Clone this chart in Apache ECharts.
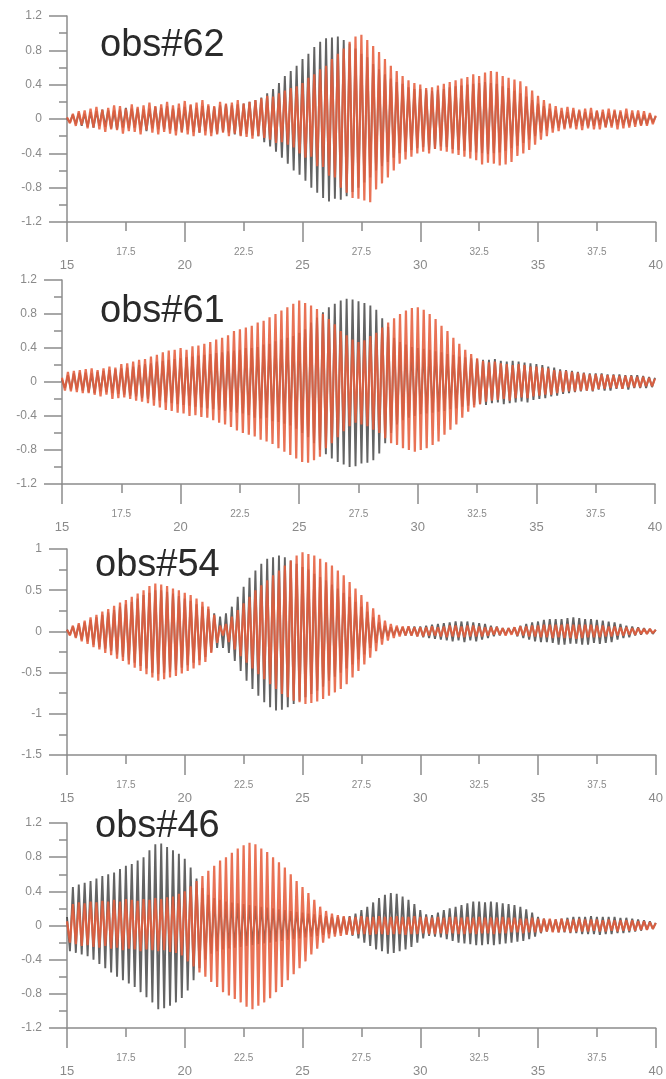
<!DOCTYPE html>
<html>
<head>
<meta charset="utf-8">
<script src="https://cdn.jsdelivr.net/npm/echarts@6/dist/echarts.min.js"></script>
<style>
html,body{margin:0;padding:0;background:#fff;}
#c{width:666px;height:1079px;}
</style>
</head>
<body>
<div id="c"></div>
<script>
// sampling of every trace: first time and step (time axis, s)
const T0 = 15;
const STEP = 0.125;
const xTicksMajor = [15, 20, 25, 30, 35, 40];
const xTicksMinor = [17.5, 22.5, 27.5, 32.5, 37.5];
const panelNames = ['obs#62', 'obs#61', 'obs#54', 'obs#46'];

// obs#62
const black62 = [
0.01,-0.04,0.05,-0.06,0.07,-0.08,0.06,-0.09,
0.08,-0.1,0.09,-0.08,0.11,-0.09,0.1,-0.11,
0.1,-0.12,0.11,-0.1,0.13,-0.11,0.12,-0.1,
0.12,-0.13,0.11,-0.14,0.12,-0.11,0.14,-0.12,
0.13,-0.12,0.15,-0.13,0.12,-0.14,0.13,-0.15,
0.14,-0.13,0.16,-0.15,0.13,-0.16,0.15,-0.14,
0.15,-0.16,0.14,-0.17,0.16,-0.15,0.17,-0.16,
0.16,-0.18,0.17,-0.19,0.18,-0.17,0.2,-0.19,
0.22,-0.2,0.25,-0.27,0.3,-0.32,0.35,-0.38,
0.42,-0.45,0.5,-0.52,0.56,-0.6,0.62,-0.65,
0.7,-0.72,0.76,-0.8,0.84,-0.86,0.9,-0.92,
0.94,-0.96,0.95,-0.93,0.96,-0.94,0.92,-0.9,
0.88,-0.85,0.82,-0.8,0.76,-0.74,0.72,-0.68,
0.64,-0.6,0.58,-0.55,0.52,-0.5,0.47,-0.45,
0.43,-0.4,0.41,-0.38,0.37,-0.36,0.35,-0.34,
0.35,-0.33,0.34,-0.36,0.33,-0.35,0.34,-0.32,
0.35,-0.33,0.37,-0.35,0.38,-0.36,0.39,-0.37,
0.4,-0.38,0.41,-0.39,0.42,-0.4,0.43,-0.41,
0.42,-0.4,0.41,-0.39,0.38,-0.37,0.36,-0.34,
0.33,-0.31,0.3,-0.28,0.26,-0.24,0.22,-0.2,
0.18,-0.16,0.15,-0.13,0.12,-0.11,0.1,-0.1,
0.09,-0.1,0.08,-0.09,0.1,-0.08,0.09,-0.08,
0.08,-0.09,0.07,-0.08,0.09,-0.07,0.08,-0.09,
0.07,-0.08,0.09,-0.07,0.08,-0.07,0.06,-0.08,
0.07,-0.06,0.06,-0.07,0.05,-0.06,0.05,-0.04,
0.03];
const orange62 = [
0.02,-0.05,0.06,-0.08,0.09,-0.07,0.1,-0.11,
0.12,-0.1,0.14,-0.12,0.11,-0.15,0.13,-0.12,
0.16,-0.13,0.15,-0.17,0.12,-0.14,0.17,-0.15,
0.14,-0.18,0.16,-0.13,0.19,-0.16,0.15,-0.18,
0.17,-0.15,0.2,-0.17,0.16,-0.19,0.18,-0.16,
0.21,-0.18,0.17,-0.2,0.19,-0.16,0.22,-0.19,
0.17,-0.2,0.15,-0.18,0.2,-0.16,0.18,-0.2,
0.19,-0.17,0.22,-0.2,0.18,-0.21,0.2,-0.23,
0.22,-0.2,0.24,-0.22,0.27,-0.24,0.26,-0.28,
0.3,-0.27,0.33,-0.3,0.36,-0.33,0.38,-0.4,
0.42,-0.45,0.48,-0.44,0.52,-0.55,0.58,-0.56,
0.62,-0.66,0.7,-0.68,0.76,-0.8,0.82,-0.86,
0.9,-0.92,0.96,-0.93,0.98,-0.95,0.92,-0.97,
0.85,-0.82,0.78,-0.75,0.7,-0.68,0.62,-0.6,
0.56,-0.52,0.5,-0.47,0.45,-0.44,0.42,-0.4,
0.4,-0.38,0.36,-0.4,0.37,-0.35,0.39,-0.37,
0.41,-0.38,0.43,-0.4,0.45,-0.42,0.47,-0.44,
0.49,-0.46,0.52,-0.48,0.5,-0.53,0.54,-0.51,
0.56,-0.52,0.55,-0.54,0.5,-0.53,0.48,-0.5,
0.46,-0.43,0.44,-0.4,0.38,-0.36,0.33,-0.3,
0.27,-0.24,0.22,-0.2,0.18,-0.16,0.15,-0.14,
0.13,-0.12,0.14,-0.11,0.13,-0.12,0.11,-0.13,
0.12,-0.11,0.13,-0.12,0.1,-0.12,0.11,-0.1,
0.12,-0.1,0.11,-0.12,0.1,-0.11,0.12,-0.1,
0.1,-0.09,0.1,-0.08,0.09,-0.08,0.07,-0.06,
0.04];

// obs#61
const black61 = [
0.03,-0.07,0.08,-0.09,0.1,-0.09,0.11,-0.1,
0.11,-0.12,0.1,-0.13,0.12,-0.11,0.13,-0.12,
0.14,-0.13,0.15,-0.14,0.16,-0.15,0.17,-0.16,
0.18,-0.17,0.2,-0.19,0.21,-0.2,0.22,-0.21,
0.24,-0.22,0.25,-0.24,0.26,-0.25,0.27,-0.26,
0.28,-0.27,0.29,-0.28,0.3,-0.29,0.31,-0.3,
0.32,-0.31,0.33,-0.32,0.34,-0.33,0.35,-0.34,
0.36,-0.35,0.37,-0.36,0.38,-0.37,0.4,-0.39,
0.4,-0.42,0.41,-0.43,0.44,-0.42,0.45,-0.46,
0.48,-0.47,0.5,-0.49,0.52,-0.51,0.54,-0.55,
0.58,-0.6,0.62,-0.65,0.7,-0.72,0.76,-0.8,
0.82,-0.85,0.88,-0.9,0.92,-0.94,0.96,-0.97,
0.98,-1.0,0.97,-0.99,0.95,-0.96,0.93,-0.95,
0.9,-0.92,0.85,-0.84,0.75,-0.72,0.65,-0.6,
0.52,-0.5,0.47,-0.45,0.44,-0.42,0.41,-0.4,
0.4,-0.38,0.39,-0.37,0.38,-0.36,0.36,-0.35,
0.35,-0.34,0.33,-0.32,0.32,-0.31,0.3,-0.29,
0.29,-0.28,0.28,-0.27,0.27,-0.26,0.26,-0.27,
0.26,-0.25,0.27,-0.24,0.25,-0.26,0.24,-0.25,
0.25,-0.24,0.24,-0.23,0.23,-0.24,0.22,-0.21,
0.21,-0.2,0.2,-0.19,0.18,-0.17,0.17,-0.16,
0.15,-0.14,0.14,-0.13,0.13,-0.12,0.12,-0.11,
0.11,-0.1,0.1,-0.11,0.1,-0.09,0.1,-0.1,
0.09,-0.1,0.09,-0.08,0.09,-0.08,0.08,-0.09,
0.08,-0.07,0.08,-0.07,0.07,-0.07,0.06,-0.06,
0.05];
const orange61 = [
0.05,-0.1,0.12,-0.11,0.13,-0.12,0.14,-0.13,
0.15,-0.13,0.16,-0.15,0.14,-0.17,0.16,-0.15,
0.18,-0.2,0.17,-0.19,0.21,-0.18,0.22,-0.2,
0.24,-0.22,0.26,-0.23,0.27,-0.25,0.3,-0.28,
0.32,-0.3,0.35,-0.33,0.37,-0.34,0.38,-0.36,
0.4,-0.37,0.38,-0.4,0.42,-0.39,0.43,-0.41,
0.45,-0.42,0.47,-0.45,0.5,-0.48,0.52,-0.5,
0.55,-0.53,0.6,-0.57,0.62,-0.6,0.64,-0.62,
0.66,-0.64,0.7,-0.68,0.72,-0.7,0.76,-0.73,
0.8,-0.78,0.84,-0.82,0.88,-0.86,0.92,-0.9,
0.96,-0.94,0.93,-0.95,0.9,-0.92,0.86,-0.88,
0.8,-0.78,0.74,-0.72,0.68,-0.65,0.6,-0.58,
0.55,-0.52,0.5,-0.48,0.47,-0.5,0.49,-0.52,
0.54,-0.56,0.58,-0.6,0.64,-0.66,0.7,-0.72,
0.75,-0.74,0.8,-0.78,0.84,-0.8,0.87,-0.82,
0.88,-0.8,0.85,-0.78,0.8,-0.74,0.74,-0.7,
0.66,-0.62,0.6,-0.56,0.52,-0.5,0.45,-0.42,
0.38,-0.35,0.33,-0.3,0.28,-0.26,0.25,-0.23,
0.23,-0.22,0.24,-0.21,0.22,-0.2,0.21,-0.22,
0.2,-0.19,0.21,-0.18,0.2,-0.19,0.18,-0.17,
0.18,-0.16,0.17,-0.15,0.16,-0.15,0.14,-0.13,
0.13,-0.12,0.13,-0.11,0.12,-0.11,0.11,-0.1,
0.1,-0.1,0.09,-0.1,0.09,-0.08,0.09,-0.08,
0.08,-0.07,0.08,-0.07,0.07,-0.08,0.07,-0.06,
0.07,-0.06,0.06,-0.06,0.06,-0.05,0.05,-0.05,
0.04];

// obs#54
const black54 = [
0.02,-0.04,0.06,-0.07,0.08,-0.1,0.11,-0.12,
0.14,-0.16,0.17,-0.19,0.2,-0.21,0.23,-0.24,
0.26,-0.28,0.3,-0.31,0.33,-0.35,0.36,-0.38,
0.4,-0.42,0.44,-0.45,0.47,-0.5,0.5,-0.52,
0.5,-0.5,0.48,-0.49,0.46,-0.47,0.43,-0.44,
0.4,-0.41,0.37,-0.38,0.33,-0.35,0.3,-0.31,
0.27,-0.25,0.22,-0.2,0.18,-0.2,0.22,-0.26,
0.3,-0.36,0.42,-0.48,0.54,-0.6,0.65,-0.7,
0.74,-0.78,0.82,-0.86,0.88,-0.92,0.9,-0.96,
0.92,-0.95,0.9,-0.92,0.86,-0.88,0.82,-0.84,
0.78,-0.8,0.75,-0.76,0.7,-0.72,0.66,-0.67,
0.62,-0.6,0.57,-0.55,0.52,-0.5,0.47,-0.45,
0.42,-0.4,0.36,-0.34,0.3,-0.28,0.24,-0.2,
0.17,-0.14,0.11,-0.09,0.07,-0.06,0.05,-0.05,
0.05,-0.04,0.05,-0.05,0.06,-0.05,0.06,-0.06,
0.06,-0.07,0.07,-0.08,0.08,-0.09,0.09,-0.1,
0.1,-0.11,0.11,-0.12,0.12,-0.11,0.12,-0.13,
0.12,-0.11,0.11,-0.12,0.1,-0.1,0.09,-0.08,
0.07,-0.06,0.06,-0.05,0.04,-0.04,0.04,-0.03,
0.05,-0.06,0.07,-0.08,0.09,-0.1,0.11,-0.12,
0.12,-0.13,0.14,-0.13,0.15,-0.14,0.15,-0.16,
0.15,-0.16,0.16,-0.15,0.17,-0.15,0.16,-0.16,
0.15,-0.16,0.15,-0.14,0.14,-0.15,0.13,-0.14,
0.12,-0.13,0.11,-0.1,0.09,-0.08,0.07,-0.07,
0.06,-0.05,0.05,-0.04,0.04,-0.03,0.03,-0.03,
0.02];
const orange54 = [
0.02,-0.05,0.07,-0.08,0.1,-0.12,0.13,-0.15,
0.17,-0.19,0.2,-0.22,0.24,-0.26,0.27,-0.29,
0.31,-0.33,0.35,-0.36,0.38,-0.4,0.42,-0.44,
0.46,-0.48,0.5,-0.52,0.55,-0.56,0.58,-0.6,
0.57,-0.58,0.55,-0.56,0.52,-0.54,0.5,-0.51,
0.47,-0.48,0.44,-0.45,0.4,-0.41,0.36,-0.37,
0.3,-0.26,0.2,-0.14,0.07,-0.05,0.09,-0.13,
0.18,-0.22,0.26,-0.3,0.34,-0.38,0.42,-0.45,
0.5,-0.52,0.56,-0.58,0.62,-0.64,0.68,-0.7,
0.74,-0.76,0.8,-0.8,0.86,-0.84,0.92,-0.86,
0.96,-0.88,0.94,-0.87,0.92,-0.85,0.88,-0.82,
0.84,-0.78,0.8,-0.74,0.74,-0.7,0.68,-0.64,
0.6,-0.56,0.52,-0.48,0.44,-0.4,0.36,-0.32,
0.28,-0.24,0.2,-0.16,0.13,-0.11,0.09,-0.08,
0.07,-0.06,0.06,-0.05,0.06,-0.05,0.05,-0.06,
0.05,-0.06,0.05,-0.05,0.06,-0.05,0.05,-0.06,
0.06,-0.07,0.07,-0.06,0.07,-0.07,0.06,-0.07,
0.07,-0.06,0.07,-0.06,0.06,-0.06,0.05,-0.05,
0.05,-0.04,0.05,-0.04,0.04,-0.05,0.04,-0.04,
0.05,-0.05,0.06,-0.05,0.06,-0.06,0.07,-0.06,
0.07,-0.07,0.08,-0.07,0.08,-0.08,0.08,-0.07,
0.08,-0.08,0.09,-0.08,0.08,-0.09,0.08,-0.08,
0.08,-0.07,0.08,-0.07,0.07,-0.07,0.07,-0.06,
0.06,-0.06,0.06,-0.05,0.05,-0.05,0.05,-0.04,
0.04,-0.04,0.04,-0.03,0.03,-0.03,0.03,-0.02,
0.02];

// obs#46
const black46 = [
0.1,-0.3,0.45,-0.32,0.48,-0.34,0.5,-0.36,
0.52,-0.4,0.55,-0.45,0.58,-0.5,0.6,-0.55,
0.62,-0.6,0.66,-0.64,0.7,-0.68,0.72,-0.72,
0.76,-0.78,0.8,-0.84,0.88,-0.9,0.95,-0.98,
0.96,-0.97,0.92,-0.94,0.88,-0.9,0.84,-0.85,
0.78,-0.76,0.68,-0.64,0.55,-0.5,0.44,-0.4,
0.36,-0.33,0.32,-0.3,0.3,-0.28,0.28,-0.27,
0.27,-0.26,0.26,-0.25,0.25,-0.24,0.24,-0.23,
0.23,-0.22,0.22,-0.21,0.21,-0.2,0.2,-0.19,
0.19,-0.18,0.18,-0.17,0.17,-0.16,0.16,-0.15,
0.15,-0.14,0.14,-0.13,0.13,-0.12,0.12,-0.11,
0.11,-0.1,0.1,-0.1,0.1,-0.09,0.1,-0.1,
0.11,-0.12,0.14,-0.15,0.18,-0.2,0.22,-0.24,
0.27,-0.28,0.32,-0.3,0.36,-0.33,0.38,-0.32,
0.37,-0.3,0.34,-0.28,0.3,-0.25,0.25,-0.2,
0.18,-0.15,0.13,-0.12,0.12,-0.13,0.15,-0.14,
0.18,-0.16,0.2,-0.18,0.22,-0.2,0.24,-0.21,
0.26,-0.22,0.28,-0.23,0.28,-0.23,0.27,-0.22,
0.28,-0.23,0.27,-0.22,0.26,-0.21,0.25,-0.2,
0.24,-0.19,0.22,-0.18,0.19,-0.16,0.15,-0.13,
0.1,-0.09,0.08,-0.07,0.07,-0.07,0.07,-0.08,
0.08,-0.08,0.09,-0.09,0.1,-0.09,0.1,-0.1,
0.1,-0.1,0.11,-0.1,0.1,-0.11,0.1,-0.1,
0.1,-0.1,0.1,-0.09,0.09,-0.09,0.09,-0.08,
0.08,-0.07,0.07,-0.06,0.06,-0.05,0.05,-0.04,
0.03];
const orange46 = [
0.05,-0.2,0.25,-0.22,0.27,-0.24,0.26,-0.23,
0.28,-0.25,0.27,-0.26,0.29,-0.24,0.28,-0.27,
0.3,-0.26,0.28,-0.29,0.31,-0.27,0.3,-0.28,
0.29,-0.3,0.31,-0.28,0.3,-0.29,0.32,-0.3,
0.31,-0.29,0.33,-0.31,0.34,-0.32,0.37,-0.35,
0.4,-0.42,0.46,-0.48,0.52,-0.55,0.58,-0.6,
0.64,-0.66,0.7,-0.72,0.76,-0.78,0.8,-0.82,
0.85,-0.86,0.9,-0.9,0.94,-0.95,0.97,-0.98,
0.95,-0.94,0.9,-0.9,0.86,-0.85,0.8,-0.78,
0.74,-0.72,0.68,-0.64,0.6,-0.57,0.52,-0.5,
0.45,-0.42,0.38,-0.34,0.3,-0.27,0.22,-0.2,
0.17,-0.15,0.14,-0.13,0.12,-0.12,0.11,-0.11,
0.1,-0.11,0.1,-0.1,0.11,-0.1,0.1,-0.11,
0.1,-0.1,0.11,-0.1,0.1,-0.11,0.1,-0.1,
0.11,-0.1,0.1,-0.11,0.1,-0.1,0.11,-0.1,
0.1,-0.09,0.1,-0.1,0.09,-0.1,0.1,-0.09,
0.09,-0.1,0.1,-0.09,0.1,-0.1,0.09,-0.1,
0.1,-0.09,0.09,-0.1,0.1,-0.09,0.09,-0.09,
0.09,-0.1,0.09,-0.09,0.1,-0.09,0.09,-0.08,
0.09,-0.08,0.08,-0.09,0.08,-0.08,0.09,-0.08,
0.08,-0.08,0.08,-0.07,0.08,-0.08,0.07,-0.08,
0.08,-0.07,0.07,-0.08,0.07,-0.07,0.08,-0.07,
0.07,-0.07,0.07,-0.06,0.07,-0.07,0.06,-0.07,
0.07,-0.06,0.06,-0.07,0.06,-0.06,0.06,-0.06,
0.06,-0.06,0.05,-0.05,0.05,-0.05,0.04,-0.04,
0.03];

const yRanges = [
  {min: -1.2, max: 1.2, interval: 0.4},
  {min: -1.2, max: 1.2, interval: 0.4},
  {min: -1.5, max: 1, interval: 0.5},
  {min: -1.2, max: 1.2, interval: 0.4}
];
const blacks = [black62, black61, black54, black46];
const oranges = [orange62, orange61, orange54, orange46];

const grids = [
  {left: 67, top: 16, width: 591, height: 206},
  {left: 62, top: 280, width: 593, height: 204},
  {left: 67, top: 549, width: 591, height: 206},
  {left: 67, top: 823, width: 591, height: 205}
];
const titleY = [46, 312, 566, 827];
const titleX = [100, 100, 95, 95];

const AX = '#8c8c8c';
const LBL = '#8a8a8a';
const FONT = "'Liberation Sans', Arial, sans-serif";
const toXY = arr => arr.map((v, i) => [T0 + i * STEP, v]);

const xAxes = [], yAxes = [], series = [], graphics = [];
grids.forEach((g, k) => {
  xAxes.push({
    gridIndex: k, type: 'value', position: 'bottom', min: 15, max: 40, interval: 5,
    axisLine: {show: true, onZero: false, lineStyle: {color: AX, width: 1.5}},
    axisTick: {show: true, length: 20, lineStyle: {color: AX, width: 1.5}},
    minorTick: {show: true, splitNumber: 2, length: 9, lineStyle: {color: AX, width: 1.5}},
    splitLine: {show: false}, minorSplitLine: {show: false},
    axisLabel: {margin: 37, fontSize: 13, color: LBL, fontFamily: FONT,
      formatter: v => (xTicksMajor.indexOf(v) >= 0 ? String(v) : '')}
  });
});
grids.forEach((g, k) => {
  xAxes.push({
    gridIndex: k, type: 'value', position: 'bottom', offset: 0, min: 15, max: 40, interval: 2.5,
    axisLine: {show: false, onZero: false}, axisTick: {show: false},
    splitLine: {show: false},
    axisLabel: {margin: 25, fontSize: 10, color: LBL, fontFamily: FONT,
      formatter: v => (xTicksMinor.indexOf(v) >= 0 ? String(v) : '')}
  });
  yAxes.push({
    gridIndex: k, type: 'value', min: yRanges[k].min, max: yRanges[k].max, interval: yRanges[k].interval,
    axisLine: {show: true, onZero: false, lineStyle: {color: AX, width: 1.5}},
    axisTick: {show: true, length: 18, lineStyle: {color: AX, width: 1.5}},
    minorTick: {show: true, splitNumber: 2, length: 8, lineStyle: {color: AX, width: 1.5}},
    splitLine: {show: false}, minorSplitLine: {show: false},
    axisLabel: {margin: 25, fontSize: 12, color: LBL, fontFamily: FONT}
  });
  series.push({
    type: 'line', xAxisIndex: k, yAxisIndex: k, data: toXY(blacks[k]),
    showSymbol: false, symbol: 'none', silent: true,
    lineStyle: {color: '#3c3c3c', width: 1.9, opacity: 0.8}
  });
  series.push({
    type: 'line', xAxisIndex: k, yAxisIndex: k, data: toXY(oranges[k]),
    showSymbol: false, symbol: 'none', silent: true,
    lineStyle: {color: '#e65f3e', width: 2.2, opacity: 0.88}
  });
  graphics.push({
    type: 'text', x: titleX[k], y: titleY[k], z: 100,
    style: {text: panelNames[k], fontSize: 38, fontFamily: FONT, fill: '#2a2a2a', verticalAlign: 'middle', align: 'left'}
  });
});

const chart = echarts.init(document.getElementById('c'), null, {renderer: 'canvas'});
chart.setOption({
  animation: false,
  backgroundColor: '#ffffff',
  grid: grids,
  xAxis: xAxes,
  yAxis: yAxes,
  series: series,
  graphic: graphics
});
</script>
</body>
</html>
